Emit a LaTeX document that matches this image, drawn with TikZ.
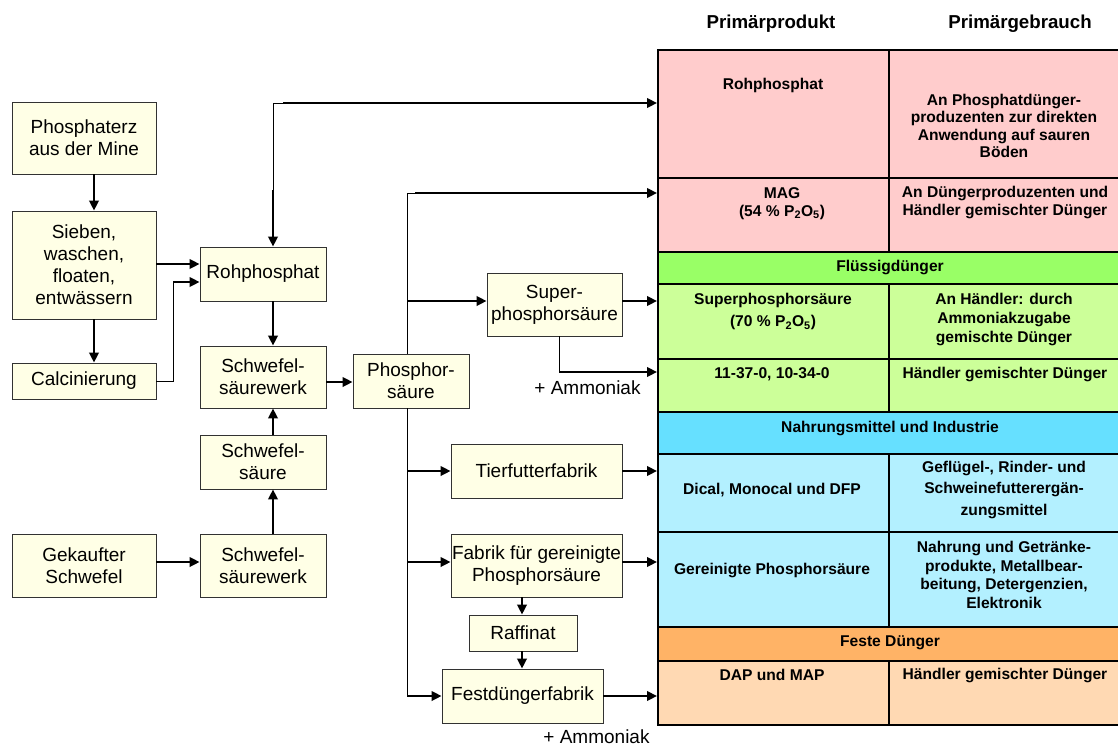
\documentclass[tikz,border=0pt]{standalone}
\usepackage{fontspec}
\setmainfont{Liberation Sans}
\usetikzlibrary{arrows.meta}
\definecolor{boxfill}{RGB}{255,255,230}
\definecolor{boxline}{RGB}{50,50,50}
\definecolor{pinkc}{RGB}{255,204,204}
\definecolor{greenband}{RGB}{153,255,102}
\definecolor{greenrow}{RGB}{204,255,153}
\definecolor{cyanband}{RGB}{102,224,255}
\definecolor{cyanrow}{RGB}{179,240,255}
\definecolor{orangeband}{RGB}{255,179,102}
\definecolor{orangerow}{RGB}{255,217,179}
\newcommand{\tcell}[6]{\node[cell, fill=#6, minimum width=#4pt, minimum height=#5pt] (#1) at (#2,#3) {};}
\begin{document}
\begin{tikzpicture}[x=1pt,y=-1pt,
  box/.style={draw=boxline, fill=boxfill, line width=0.9pt, inner sep=0pt, align=center,
    font=\fontsize{19}{22}\selectfont},
  arr/.style={line width=2.3pt, -{Triangle[length=10pt,width=9.5pt]}},
  thinline/.style={line width=1pt},
  cell/.style={draw=black, line width=1.5pt, inner sep=0pt, anchor=north west},
  ctext/.style={font=\bfseries\fontsize{15.6}{18.5}\selectfont, align=center, inner sep=0pt},
  htext/.style={font=\bfseries\fontsize{18.7}{21}\selectfont, inner sep=0pt},
  lbl/.style={font=\fontsize{19}{21}\selectfont, inner sep=0pt}
]
\useasboundingbox (0,0) rectangle (1118,747);
\fill[white] (0,0) rectangle (1118,747);

% ---------- table ----------
\tcell{r1l}{657}{49}{231}{128}{pinkc}
\tcell{r1r}{888}{49}{233}{128}{pinkc}
\tcell{r2l}{657}{177}{231}{74}{pinkc}
\tcell{r2r}{888}{177}{233}{74}{pinkc}
\tcell{b1}{657}{251}{464}{32}{greenband}
\tcell{r3l}{657}{283}{231}{75}{greenrow}
\tcell{r3r}{888}{283}{233}{75}{greenrow}
\tcell{r4l}{657}{358}{231}{53}{greenrow}
\tcell{r4r}{888}{358}{233}{53}{greenrow}
\tcell{b2}{657}{411}{464}{42}{cyanband}
\tcell{r5l}{657}{453}{231}{78}{cyanrow}
\tcell{r5r}{888}{453}{233}{78}{cyanrow}
\tcell{r6l}{657}{531}{231}{95}{cyanrow}
\tcell{r6r}{888}{531}{233}{95}{cyanrow}
\tcell{b3}{657}{626}{464}{34}{orangeband}
\tcell{r7l}{657}{660}{231}{64}{orangerow}
\tcell{r7r}{888}{660}{233}{64}{orangerow}

\node[htext] (h1) at (771,24) {Primärprodukt};
\node[htext] (h2) at (1020,24) {Primärgebrauch};

\node[ctext] (t1l) at (773,85) {Rohphosphat};
\node[ctext, font=\bfseries\fontsize{15.6}{17.4}\selectfont] (t1r) at (1004,126) {An Phosphatdünger-\\produzenten zur direkten\\Anwendung auf sauren\\Böden};
\node[ctext, font=\bfseries\fontsize{15.6}{17.5}\selectfont] (t2l) at (782,203.5) {MAG\\(54 \% P\textsubscript{2}O\textsubscript{5})};
\node[ctext] (t2r) at (1005,202.5) {An Düngerproduzenten und\\Händler gemischter Dünger};
\node[ctext] (tb1) at (890,267) {Flüssigdünger};
\node[ctext, font=\bfseries\fontsize{15.6}{22}\selectfont] (t3l) at (773,311.5) {Superphosphorsäure\\(70 \% P\textsubscript{2}O\textsubscript{5})};
\node[ctext, font=\bfseries\fontsize{15.6}{19}\selectfont] (t3r) at (1004,319) {An Händler: durch\\Ammoniakzugabe\\gemischte Dünger};
\node[ctext] (t4l) at (772,374) {11-37-0, 10-34-0};
\node[ctext] (t4r) at (1005,374) {Händler gemischter Dünger};
\node[ctext] (tb2) at (890,428) {Nahrungsmittel und Industrie};
\node[ctext] (t5l) at (772,490) {Dical, Monocal und DFP};
\node[ctext, font=\bfseries\fontsize{15.6}{21.5}\selectfont] (t5r) at (1004,489.5) {Geflügel-, Rinder- und\\Schweinefutterergän-\\zungsmittel};
\node[ctext] (t6l) at (772,570) {Gereinigte Phosphorsäure};
\node[ctext, font=\bfseries\fontsize{15.6}{18.7}\selectfont] (t6r) at (1004,575) {Nahrung und Getränke-\\produkte, Metallbear-\\beitung, Detergenzien,\\Elektronik};
\node[ctext] (tb3) at (890,643) {Feste Dünger};
\node[ctext] (t7l) at (772,675) {DAP und MAP};
\node[ctext] (t7r) at (1005,675) {Händler gemischter Dünger};

% ---------- process boxes ----------
\node[box, minimum width=144pt, minimum height=72pt] (ore) at (84,138) {Phosphaterz\\aus der Mine};
\node[box, minimum width=144pt, minimum height=108pt] (sieb) at (84,265) {Sieben,\\waschen,\\floaten,\\entwässern};
\node[box, minimum width=144pt, minimum height=36pt] (calc) at (84,381) {Calcinierung};
\node[box, minimum width=126pt, minimum height=54pt] (roh) at (263,274) {Rohphosphat};
\node[box, minimum width=126pt, minimum height=62pt] (sw1) at (263,377) {Schwefel-\\säurewerk};
\node[box, minimum width=126pt, minimum height=54pt] (ss) at (263,462) {Schwefel-\\säure};
\node[box, minimum width=144pt, minimum height=63pt] (gek) at (84,565.5) {Gekaufter\\Schwefel};
\node[box, minimum width=126pt, minimum height=63pt] (sw2) at (263,565.5) {Schwefel-\\säurewerk};
\node[box, minimum width=116pt, minimum height=54pt] (phos) at (411,381) {Phosphor-\\säure};
\node[box, minimum width=135pt, minimum height=63pt] (sup) at (554.5,304.5) {Super-\\phosphorsäure};
\node[box, minimum width=171pt, minimum height=54pt] (tier) at (536.5,471) {Tierfutterfabrik};
\node[box, minimum width=171pt, minimum height=63pt] (fab) at (536.5,565.5) {Fabrik für gereinigte\\Phosphorsäure};
\node[box, minimum width=108pt, minimum height=36pt] (raff) at (523,633) {Raffinat};
\node[box, minimum width=161pt, minimum height=54pt] (fest) at (522.5,696) {Festdüngerfabrik};

\node[lbl] (am1) at (587.5,388) {+ Ammoniak};
\node[lbl] (am2) at (596.5,737) {+ Ammoniak};

% ---------- helper coordinates ----------
\coordinate (xOre) at (94,0);
\coordinate (ySR) at (0,264);
\coordinate (yCR) at (0,282);
\coordinate (xCR) at (173,0);
\coordinate (yTop) at (0,103);
\coordinate (yTopK) at (0,190);
\coordinate (topk) at (283,103);
\coordinate (xRoh) at (273,0);
\coordinate (ySP) at (0,382);
\coordinate (yGS) at (0,562);
\coordinate (xTr) at (407,0);
\coordinate (yMAG) at (0,193);
\coordinate (magk) at (415,193);
\coordinate (ySup) at (0,301);
\coordinate (yAm) at (0,372);
\coordinate (xSupB) at (559,0);
\coordinate (yTier) at (0,471);
\coordinate (yFab) at (0,562);
\coordinate (yFest) at (0,696);
\coordinate (xRaf) at (522,0);

% ---------- connectors ----------
\draw[arr] (ore.south -| xOre) -- (sieb.north -| xOre);
\draw[arr] (sieb.south -| xOre) -- (calc.north -| xOre);
\draw[arr] (sieb.east |- ySR) -- (roh.west |- ySR);
\draw[thinline] (calc.east) -- (xCR |- calc.east) -- (xCR |- yCR);
\draw[arr] (xCR |- yCR) -- (roh.west |- yCR);
\draw[thinline] (xRoh |- yTopK) -- (xRoh |- yTop) -- (topk);
\draw[arr] (xRoh |- yTopK) -- (roh.north -| xRoh);
\draw[arr] (topk) -- (r1l.west |- topk);
\draw[arr] (roh.south -| xRoh) -- (sw1.north -| xRoh);
\draw[arr] (ss.north -| xRoh) -- (sw1.south -| xRoh);
\draw[arr] (sw2.north -| xRoh) -- (ss.south -| xRoh);
\draw[arr] (gek.east |- yGS) -- (sw2.west |- yGS);
\draw[arr] (sw1.east |- ySP) -- (phos.west |- ySP);
\draw[thinline] (phos.north -| xTr) -- (xTr |- yMAG) -- (magk);
\draw[arr] (magk) -- (r2l.west |- magk);
\draw[thinline] (phos.south -| xTr) -- (xTr |- yFest);
\draw[arr] (xTr |- ySup) -- (sup.west |- ySup);
\draw[arr] (sup.east |- ySup) -- (r3l.west |- ySup);
\draw[thinline] (sup.south -| xSupB) -- (xSupB |- yAm);
\draw[arr] (xSupB |- yAm) -- (r4l.west |- yAm);
\draw[arr] (xTr |- yTier) -- (tier.west |- yTier);
\draw[arr] (tier.east |- yTier) -- (r5l.west |- yTier);
\draw[arr] (xTr |- yFab) -- (fab.west |- yFab);
\draw[arr] (fab.east |- yFab) -- (r6l.west |- yFab);
\draw[arr] (fab.south -| xRaf) -- (raff.north -| xRaf);
\draw[arr] (raff.south -| xRaf) -- (fest.north -| xRaf);
\draw[arr] (xTr |- yFest) -- (fest.west |- yFest);
\draw[arr] (fest.east |- yFest) -- (r7l.west |- yFest);
\end{tikzpicture}
\end{document}
